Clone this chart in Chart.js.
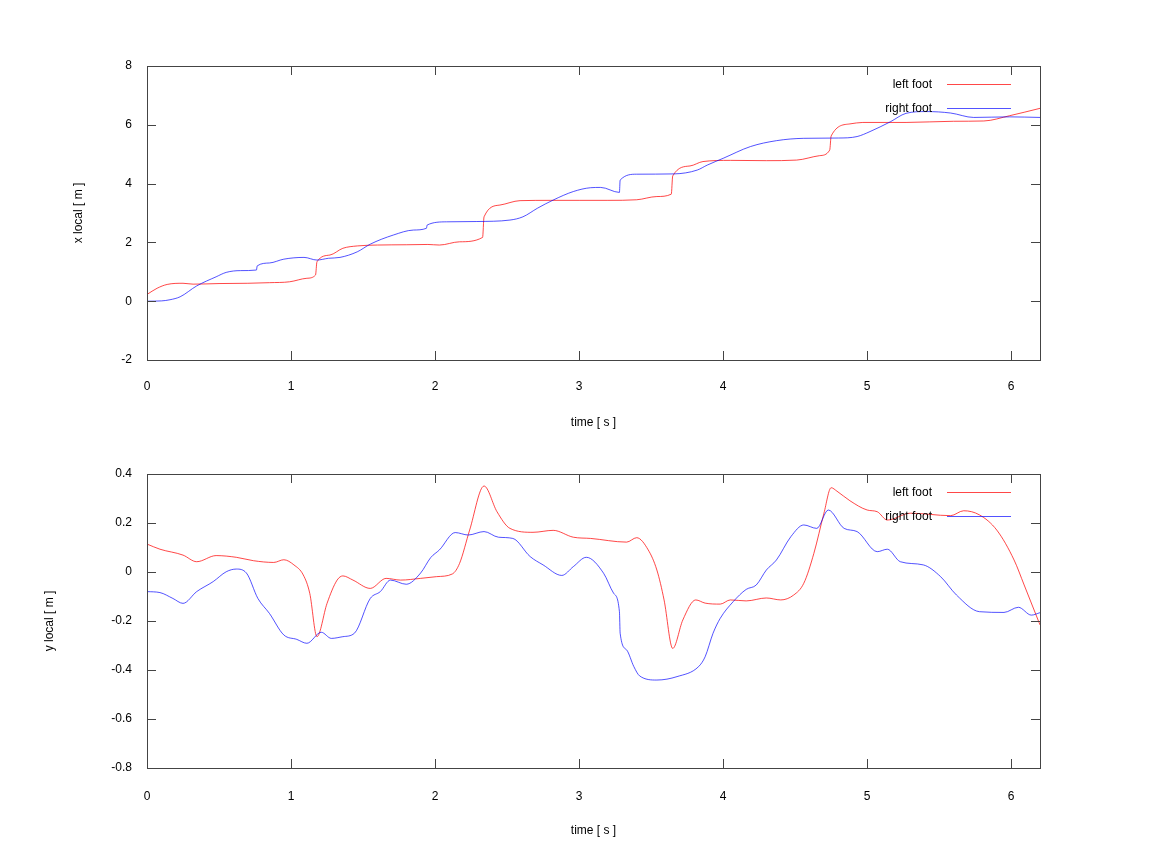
<!DOCTYPE html>
<html><head><meta charset="utf-8">
<script src="https://cdn.jsdelivr.net/npm/chart.js@4.4.1/dist/chart.umd.min.js"></script>
<style>html,body{margin:0;padding:0;background:#fff;} .wrap{position:absolute;left:0;width:1150px;height:431px;}</style>
</head><body>
<div class="wrap" style="top:0"><canvas id="c1" width="1150" height="431"></canvas></div>
<div class="wrap" style="top:431px"><canvas id="c2" width="1150" height="431"></canvas></div>
<script>
const seriesNames = ['left foot', 'right foot'];
const seriesColors = ['rgba(255,0,0,0.72)', 'rgba(0,0,255,0.68)'];
const timeTicks = [0, 1, 2, 3, 4, 5, 6];
const xLocalTicks = [-2, 0, 2, 4, 6, 8];
const yLocalTicks = [-0.8, -0.6, -0.4, -0.2, 0, 0.2, 0.4];

const leftXTime = [0, 0.07, 0.14, 0.25, 0.32, 0.5, 0.7, 0.85, 0.99, 1.11, 1.17, 1.18, 1.27, 1.36, 1.46, 1.6, 1.8, 1.95, 2.03, 2.17, 2.33, 2.34, 2.45, 2.59, 2.8, 3.0, 3.2, 3.4, 3.54, 3.64, 3.65, 3.77, 3.86, 4.05, 4.3, 4.51, 4.67, 4.74, 4.75, 4.88, 4.97, 5.27, 5.6, 5.81, 5.99, 6.2];
const leftX =     [0.23, 0.44, 0.57, 0.61, 0.58, 0.6, 0.61, 0.63, 0.66, 0.78, 0.89, 1.34, 1.57, 1.8, 1.88, 1.91, 1.92, 1.93, 1.91, 2.02, 2.17, 2.87, 3.27, 3.42, 3.43, 3.43, 3.43, 3.45, 3.56, 3.64, 4.26, 4.6, 4.75, 4.79, 4.78, 4.8, 4.95, 5.14, 5.62, 6.03, 6.08, 6.08, 6.12, 6.13, 6.31, 6.56];

const rightXTime = [0, 0.1, 0.16, 0.23, 0.345, 0.48, 0.55, 0.65, 0.76, 0.765, 0.85, 0.95, 1.09, 1.18, 1.26, 1.34, 1.46, 1.55, 1.71, 1.85, 1.94, 1.945, 2.08, 2.29, 2.52, 2.61, 2.71, 2.82, 2.96, 3.08, 3.15, 3.28, 3.285, 3.40, 3.66, 3.82, 3.89, 4.0, 4.19, 4.37, 4.56, 4.8, 4.93, 5.02, 5.16, 5.27, 5.41, 5.58, 5.74, 5.99, 6.2];
const rightX =     [0, 0.01, 0.05, 0.15, 0.52, 0.83, 0.98, 1.04, 1.06, 1.2, 1.3, 1.43, 1.49, 1.4, 1.46, 1.49, 1.68, 1.94, 2.25, 2.42, 2.48, 2.59, 2.7, 2.71, 2.76, 2.87, 3.16, 3.44, 3.73, 3.86, 3.87, 3.7, 4.12, 4.32, 4.33, 4.46, 4.63, 4.86, 5.26, 5.46, 5.54, 5.55, 5.6, 5.77, 6.1, 6.39, 6.45, 6.4, 6.25, 6.27, 6.25];

const leftYTime = [0, 0.09, 0.25, 0.345, 0.48, 0.62, 0.74, 0.88, 0.95, 1.02, 1.085, 1.13, 1.18, 1.25, 1.32, 1.36, 1.43, 1.55, 1.66, 1.76, 1.9, 2.01, 2.12, 2.17, 2.24, 2.34, 2.43, 2.52, 2.68, 2.82, 2.96, 3.08, 3.33, 3.40, 3.48, 3.54, 3.59, 3.65, 3.72, 3.81, 3.875, 3.98, 4.05, 4.16, 4.30, 4.40, 4.49, 4.56, 4.63, 4.70, 4.75, 4.79, 4.88, 5.0, 5.07, 5.14, 5.30, 5.58, 5.67, 5.78, 5.90, 6.02, 6.09, 6.2];
const leftY =     [0.114, 0.093, 0.069, 0.042, 0.067, 0.06, 0.046, 0.039, 0.05, 0.029, -0.012, -0.087, -0.264, -0.128, -0.033, -0.016, -0.033, -0.067, -0.026, -0.033, -0.026, -0.019, -0.008, 0.035, 0.171, 0.351, 0.246, 0.178, 0.162, 0.17, 0.142, 0.137, 0.122, 0.14, 0.09, 0.008, -0.114, -0.312, -0.196, -0.114, -0.127, -0.131, -0.114, -0.118, -0.106, -0.114, -0.094, -0.046, 0.076, 0.24, 0.344, 0.33, 0.291, 0.253, 0.246, 0.212, 0.24, 0.23, 0.25, 0.233, 0.171, 0.049, -0.053, -0.216];

const rightYTime = [0, 0.09, 0.18, 0.25, 0.345, 0.46, 0.55, 0.62, 0.69, 0.77, 0.85, 0.95, 1.04, 1.11, 1.21, 1.28, 1.36, 1.44, 1.55, 1.62, 1.69, 1.80, 1.9, 1.97, 2.03, 2.14, 2.23, 2.34, 2.44, 2.54, 2.66, 2.75, 2.88, 2.96, 3.05, 3.17, 3.24, 3.28, 3.285, 3.33, 3.38, 3.42, 3.54, 3.68, 3.83, 3.875, 3.93, 3.98, 4.07, 4.16, 4.23, 4.30, 4.37, 4.47, 4.56, 4.65, 4.73, 4.84, 4.93, 5.07, 5.14, 5.23, 5.39, 5.51, 5.62, 5.78, 5.95, 6.05, 6.14, 6.2];
const rightY =     [-0.08, -0.084, -0.108, -0.128, -0.08, -0.039, 0.001, 0.012, -0.004, -0.108, -0.169, -0.257, -0.275, -0.291, -0.246, -0.271, -0.264, -0.25, -0.108, -0.08, -0.033, -0.05, -0.004, 0.059, 0.09, 0.161, 0.151, 0.165, 0.142, 0.137, 0.063, 0.029, -0.014, 0.022, 0.06, -0.005, -0.087, -0.162, -0.25, -0.318, -0.386, -0.424, -0.441, -0.427, -0.386, -0.346, -0.25, -0.189, -0.121, -0.071, -0.053, 0.008, 0.049, 0.144, 0.192, 0.178, 0.253, 0.178, 0.165, 0.083, 0.093, 0.042, 0.029, -0.019, -0.094, -0.162, -0.165, -0.144, -0.176, -0.166];

const FONT = {family: '"Liberation Sans", Arial, sans-serif', size: 12};

function pts(ts, vs) { return ts.map((t, i) => ({x: t, y: vs[i]})); }

const framePlugin = {
  id: 'gnuframe',
  afterDraw(chart) {
    const {ctx, chartArea: a, scales} = chart;
    const xs = scales.x, ys = scales.y;
    const L = 9;
    ctx.save();
    ctx.strokeStyle = '#444';
    ctx.lineWidth = 1;
    ctx.beginPath();
    xs.ticks.forEach(t => {
      const p = Math.round(xs.getPixelForValue(t.value)) + 0.5;
      ctx.moveTo(p, a.bottom); ctx.lineTo(p, a.bottom - L);
      ctx.moveTo(p, a.top); ctx.lineTo(p, a.top + L);
    });
    ys.ticks.forEach(t => {
      const p = Math.round(ys.getPixelForValue(t.value)) + 0.5;
      ctx.moveTo(a.left, p); ctx.lineTo(a.left + L, p);
      ctx.moveTo(a.right, p); ctx.lineTo(a.right - L, p);
    });
    ctx.stroke();
    ctx.strokeRect(Math.round(a.left) + 0.5, Math.round(a.top) + 0.5, Math.round(a.right - a.left), Math.round(a.bottom - a.top));
    // key
    ctx.font = '12px ' + FONT.family;
    ctx.textAlign = 'right';
    ctx.textBaseline = 'middle';
    chart.data.datasets.forEach((ds, i) => {
      const yy = Math.round(a.top + 18 + i * 24) + 0.5;
      ctx.fillStyle = '#000';
      ctx.fillText(ds.label, a.right - 108, yy);
      ctx.strokeStyle = ds.borderColor;
      ctx.beginPath();
      ctx.moveTo(a.right - 93, yy); ctx.lineTo(a.right - 29, yy);
      ctx.stroke();
    });
    ctx.restore();
  }
};

function makeChart(id, lt, lv, rt, rv, yMin, yMax, yTicks, yTitle, yTitlePad, padTop, padBottom, xTickPad) {
  return new Chart(document.getElementById(id), {
    type: 'line',
    data: {
      datasets: [
        {label: seriesNames[0], data: pts(lt, lv), borderColor: seriesColors[0], borderWidth: 1, pointRadius: 0, fill: false, cubicInterpolationMode: 'monotone', order: 2},
        {label: seriesNames[1], data: pts(rt, rv), borderColor: seriesColors[1], borderWidth: 1, pointRadius: 0, fill: false, cubicInterpolationMode: 'monotone', order: 1}
      ]
    },
    options: {
      responsive: false,
      animation: false,
      events: [],
      layout: {padding: {left: 0, right: 110, top: padTop, bottom: padBottom}},
      plugins: {legend: {display: false}, tooltip: {enabled: false}},
      scales: {
        x: {
          type: 'linear', min: 0, max: 6.2,
          afterBuildTicks: s => { s.ticks = timeTicks.map(v => ({value: v})); },
          afterFit: s => { s.height = 71; },
          grid: {display: false, drawTicks: false},
          border: {display: false},
          ticks: {padding: xTickPad, color: '#000', font: FONT, maxRotation: 0, autoSkip: false},
          title: {display: true, text: 'time [ s ]', color: '#000', font: FONT, padding: {top: 0, bottom: 1}}
        },
        y: {
          type: 'linear', min: yMin, max: yMax,
          afterBuildTicks: s => { s.ticks = yTicks.map(v => ({value: v})); },
          afterFit: s => { s.width = 147; },
          grid: {display: false, drawTicks: false},
          border: {display: false},
          ticks: {padding: 15, color: '#000', font: FONT, autoSkip: false},
          title: {display: true, text: yTitle, color: '#000', font: FONT, padding: {top: yTitlePad, bottom: 0}}
        }
      }
    },
    plugins: [framePlugin]
  });
}

makeChart('c1', leftXTime, leftX, rightXTime, rightX, -2, 8, xLocalTicks, 'x local [ m ]', 71, 66, 0, 19);
makeChart('c2', leftYTime, leftY, rightYTime, rightY, -0.8, 0.4, yLocalTicks, 'y local [ m ]', 42, 43, 23, 21);
</script>
</body></html>
